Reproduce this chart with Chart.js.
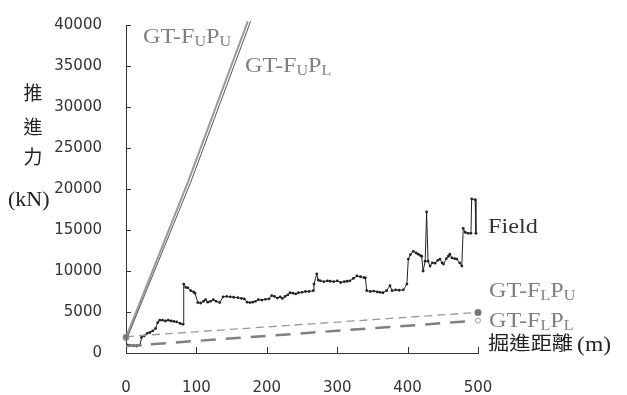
<!DOCTYPE html>
<html>
<head>
<meta charset="utf-8">
<script src="https://cdn.jsdelivr.net/npm/chart.js@4/dist/chart.umd.min.js"></script>
<style>
html,body{margin:0;padding:0;background:#fff;}
#wrap{width:627px;height:395px;}
</style>
</head>
<body>
<div id="wrap"><canvas id="c" width="627" height="395"></canvas></div>
<script>
// ---- data (distance in m, thrust in kN) ----
const fieldX = [0,5,10,15,20,22,26,30,34,38,42,45,48,52,56,60,64,68,72,77,81,82,85,88,92,96,98,102,106,110,113,116,120,124,128,133,138,143,148,153,159,164,168,172,176,180,184,188,193,198,203,207,211,215,219,222,226,230,233,237,241,245,250,255,260,266,267,271,273,276,281,286,290,295,300,305,310,314,318,323,328,333,338,340,342,347,352,357,361,365,370,375,378,383,388,394,399,401,404,408,412,415,418,420,422,425,427,429,432,435,439,443,446,449,451,455,458,460,463,467,470,474,477,479,482,486,490,491,496,497];
const fieldY = [1100,950,900,850,950,1900,2100,2400,2500,2700,3000,3700,4000,4000,3900,4000,3900,3850,3800,3600,3500,8400,8000,7950,7600,7450,7300,6150,6100,6300,6500,6200,6300,6500,6300,6150,6850,6900,6850,6800,6750,6650,6600,6200,6150,6200,6300,6500,6450,6550,6600,7000,6900,6700,6850,6650,6900,7100,7350,7300,7200,7350,7400,7500,7500,7600,8400,9650,8900,8800,8700,8800,8750,8700,8800,8600,8700,8750,8800,9100,9400,9300,9200,9150,7600,7500,7550,7450,7400,7350,7600,8200,7600,7700,7650,7700,8400,11450,12000,12400,12200,12050,11900,11800,10000,11200,17200,11200,10600,11000,10950,11300,11450,11000,10850,11500,11800,12050,11600,11500,11450,11000,10600,15200,14700,14600,14600,18800,18700,14600];
const fuPuX = [0,88,173];
const fuPuY = [1900,20850,40450];
const fuPlX = [0,92,177];
const fuPlY = [1500,20850,40450];
const flPuX = [0,500];
const flPuY = [2000,4950];
const flPlX = [0,500];
const flPlY = [850,3950];
const xTicks = [0,100,200,300,400,500];
const yTicks = [0,5000,10000,15000,20000,25000,30000,35000,40000];
const seriesNames = ['Field','GT-FUPU','GT-FUPL','GT-FLPU','GT-FLPL'];
const xTitle = '掘進距離 (m)';
const yTitleChars = ['推','進','力'];
const yTitleUnit = '(kN)';

const pts = (xs, ys) => xs.map((x, i) => ({x: x, y: ys[i]}));

function richText(ctx, x, baseline, parts, size, color, sx) {
  ctx.save();
  ctx.translate(x, baseline);
  ctx.scale(sx, 1);
  ctx.fillStyle = color;
  ctx.textBaseline = 'alphabetic';
  ctx.textAlign = 'left';
  let cx = 0;
  parts.forEach(p => {
    const fs = p.sub ? Math.round(size * 0.66) : size;
    ctx.font = fs + 'px "Liberation Serif", serif';
    ctx.fillText(p.t, cx, p.sub ? 3 : 0);
    cx += ctx.measureText(p.t).width;
  });
  ctx.restore();
}

const labelPlugin = {
  id: 'labels',
  afterDatasetsDraw(chart) {
    const ctx = chart.ctx;
    const xs = chart.scales.x, ys = chart.scales.y;
    // inward ticks
    ctx.save();
    ctx.strokeStyle = '#333';
    ctx.lineWidth = 1;
    ctx.beginPath();
    xTicks.forEach(v => {
      if (v === 0) return;
      const px = Math.round(xs.getPixelForValue(v)) + 0.5;
      ctx.moveTo(px, ys.bottom); ctx.lineTo(px, ys.bottom - 6);
    });
    yTicks.forEach(v => {
      if (v === 0) return;
      const py = Math.round(ys.getPixelForValue(v)) + 0.5;
      ctx.moveTo(xs.left, py); ctx.lineTo(xs.left + 5, py);
    });
    ctx.stroke();
    ctx.restore();

    const gray = '#808080', dark = '#222';
    const S = 1.15;
    richText(ctx, 143, 43, [{t:'GT-F'},{t:'U',sub:true},{t:'P'},{t:'U',sub:true}], 21, gray, S);
    richText(ctx, 245, 72, [{t:'GT-F'},{t:'U',sub:true},{t:'P'},{t:'L',sub:true}], 21, gray, S);
    richText(ctx, 488, 233, [{t:'Field'}], 22, '#333', 1.1);
    richText(ctx, 489, 297, [{t:'GT-F'},{t:'L',sub:true},{t:'P'},{t:'U',sub:true}], 21, gray, S);
    richText(ctx, 489, 327, [{t:'GT-F'},{t:'L',sub:true},{t:'P'},{t:'L',sub:true}], 21, gray, S);

    // x title
    ctx.save();
    ctx.translate(488, 351);
    ctx.scale(1.12, 1);
    ctx.fillStyle = dark;
    ctx.textBaseline = 'alphabetic';
    ctx.font = '19px "Noto Sans CJK TC", sans-serif';
    const cjk = xTitle.split(' ')[0];
    ctx.fillText(cjk, 0, -1);
    const w = ctx.measureText(cjk + ' ').width;
    ctx.font = '21px "Liberation Serif", serif';
    ctx.fillText(' ' + xTitle.split(' ')[1], w - 6, 0);
    ctx.restore();

    // y title
    ctx.save();
    ctx.fillStyle = dark;
    ctx.textAlign = 'center';
    ctx.textBaseline = 'middle';
    ctx.font = '19px "Noto Sans CJK TC", sans-serif';
    const cy = [93, 127, 157];
    yTitleChars.forEach((ch, i) => ctx.fillText(ch, 33, cy[i]));
    ctx.restore();
    richText(ctx, 8, 206, [{t:yTitleUnit}], 21, dark, 1.05);
  }
};

new Chart(document.getElementById('c'), {
  type: 'scatter',
  data: {
    datasets: [
      {label: seriesNames[0], data: pts(fieldX, fieldY), showLine: true, borderColor: '#222', borderWidth: 1,
       pointRadius: 1.4, pointBackgroundColor: '#222', pointBorderWidth: 0, tension: 0, order: 1},
      {label: seriesNames[1], data: pts(fuPuX, fuPuY), showLine: true, borderColor: '#999', borderWidth: 2,
       pointRadius: [3.5,0,0], pointBackgroundColor: '#999', pointBorderWidth: 0, clip: false, order: 3},
      {label: seriesNames[2], data: pts(fuPlX, fuPlY), showLine: true, borderColor: '#555', borderWidth: 1,
       pointRadius: 0, clip: false, order: 2},
      {label: seriesNames[3], data: pts(flPuX, flPuY), showLine: true, borderColor: '#999', borderWidth: 1.3,
       borderDash: [8, 5], pointRadius: [2.5, 3.5], pointBackgroundColor: '#777', pointBorderColor: '#777', pointBorderWidth: 0, clip: false},
      {label: seriesNames[4], data: pts(flPlX, flPlY), showLine: true, borderColor: '#808080', borderWidth: 2.5,
       borderDash: [15, 10], pointRadius: [0, 2.5], pointBackgroundColor: '#fff', pointBorderColor: '#999', pointBorderWidth: 1, clip: false}
    ]
  },
  options: {
    responsive: false,
    animation: false,
    devicePixelRatio: 1,
    layout: {padding: {top: 22, right: 149, left: 0, bottom: 0}},
    plugins: {legend: {display: false}, tooltip: {enabled: false}},
    scales: {
      x: {
        type: 'linear', min: 0, max: 500,
        afterFit: s => { s.height = 42; },
        afterBuildTicks: s => { s.ticks = xTicks.map(v => ({value: v})); },
        grid: {display: false},
        border: {display: true, color: '#333', width: 1},
        ticks: {padding: 18, color: '#333', font: {family: 'DejaVu Sans', size: 15}, maxRotation: 0,
                callback: v => String(v)}
      },
      y: {
        type: 'linear', min: 0, max: 40000,
        afterFit: s => { s.width = 126; },
        afterBuildTicks: s => { s.ticks = yTicks.map(v => ({value: v})); },
        grid: {display: false},
        border: {display: true, color: '#333', width: 1},
        ticks: {padding: 16, color: '#333', font: {family: 'DejaVu Sans', size: 15},
                callback: v => String(v)}
      }
    }
  },
  plugins: [labelPlugin]
});
</script>
</body>
</html>
